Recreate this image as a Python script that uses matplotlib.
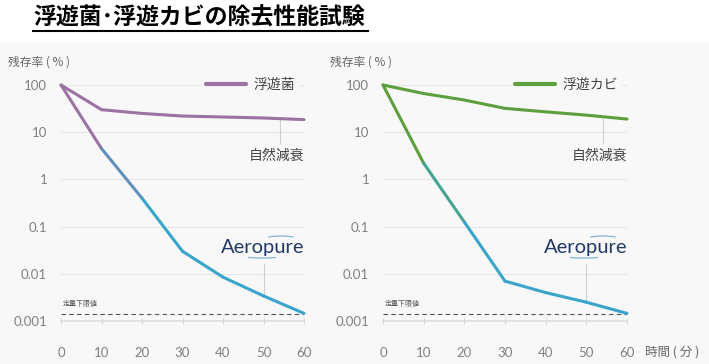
import matplotlib.pyplot as plt
import numpy as np
from matplotlib.collections import LineCollection
from matplotlib.patches import Arc, Rectangle
from matplotlib.lines import Line2D
from matplotlib.colors import to_rgb

plt.rcParams['font.family'] = ['Noto Sans CJK JP', 'DejaVu Sans']

TITLE = '浮遊菌･浮遊カビの除去性能試験'
MINUTES = [0, 10, 20, 30, 40, 50, 60]

# 浮遊菌
BAC_NATURAL = [100, 30, 25, 22, 21, 20, 18.5]
BAC_AEROPURE = [100, 4.5, 0.4, 0.03, 0.0085, 0.0034, 0.00145]
# 浮遊カビ
MOLD_NATURAL = [100, 66, 48, 32, 27, 23, 19]
MOLD_AEROPURE = [100, 2.2, 0.125, 0.007, 0.004, 0.0025, 0.00145]

LIMIT = 0.00142
YTICKS = [0.001, 0.01, 0.1, 1, 10, 100]
YTICKLABELS = ['0.001', '0.01', '0.1', '1', '10', '100']

PURPLE = '#9b72a3'
GREEN = '#5c9f3c'
CYAN = '#3ba4cb'
NAVY = '#22396a'
BG = '#f8f8f8'

W, H = 709, 364


def mix(c1, c2, t):
    a, b = np.array(to_rgb(c1)), np.array(to_rgb(c2))
    return tuple(a * (1 - t) + b * t)


def panel(ax, natural, aero, color, legend_label):
    ax.set_facecolor(BG)
    ax.set_yscale('log')
    ax.set_ylim(0.001, 100)
    ax.set_xlim(0, 60)
    ax.yaxis.set_minor_locator(plt.NullLocator())
    ax.set_yticks(YTICKS)
    ax.set_yticklabels(YTICKLABELS)
    ax.set_xticks(MINUTES)
    for s in ['top', 'right', 'left']:
        ax.spines[s].set_visible(False)
    ax.spines['bottom'].set_color('#dddddd')
    ax.spines['bottom'].set_linewidth(1.2)
    ax.tick_params(axis='y', length=0, pad=10, labelsize=9.5, labelcolor='#808080')
    ax.tick_params(axis='x', length=5, direction='inout', color='#d6d6d6',
                   pad=16, labelsize=9.5, labelcolor='#808080')
    for lab in ax.get_xticklabels() + ax.get_yticklabels():
        lab.set_family(['Lato', 'DejaVu Sans'])
    ax.grid(axis='y', color='#e6e6e6', linewidth=0.8)
    ax.set_axisbelow(True)

    # 定量下限値
    ax.axhline(LIMIT, color='#555555', linewidth=0.8, dashes=(4, 3))
    ax.text(0.5, 0.0019, '定量下限値', fontsize=5, color='#555555', va='bottom')

    # natural decay line
    ax.plot(MINUTES, natural, color=color, linewidth=2.2, label=legend_label,
            solid_capstyle='round', clip_on=False, zorder=4)

    # aeropure line with colour gradient from series colour to cyan
    pts = np.column_stack([MINUTES, aero])
    segs = [pts[i:i + 2] for i in range(len(pts) - 1)]
    cols = [color, mix(color, CYAN, 0.6), CYAN, CYAN, CYAN, CYAN]
    lc = LineCollection(segs, colors=cols, linewidths=2.2, capstyle='round',
                        clip_on=False, zorder=4)
    ax.add_collection(lc)

    # leader lines
    ax.vlines(54, 5.5, natural[5] * 0.97, color='#d0d0d0', linewidth=0.8, zorder=2)
    ax.text(60, 3.2, '自然減衰', fontsize=10, color='#444444', ha='right', va='center')
    ax.vlines(50, aero[5], 0.017, color='#d0d0d0', linewidth=0.8, zorder=2)
    ax.text(60, 0.036, 'Aeropure', fontsize=14.5, color=NAVY, ha='right', va='center',
            family=['Lato', 'DejaVu Sans'])

    leg = ax.legend(loc='center right', bbox_to_anchor=(1.01, 1.0), fontsize=10,
                    handlelength=2.9, handletextpad=0.55, borderpad=0.3,
                    frameon=True, facecolor=BG, edgecolor='none', framealpha=1)
    for t in leg.get_texts():
        t.set_color('#444444')
    leg.get_lines()[0].set_linewidth(3)


fig = plt.figure(figsize=(W / 100, H / 100), dpi=100)
fig.patch.set_facecolor('white')
fig.patches.append(Rectangle((0, 0), 1, (H - 42) / H, transform=fig.transFigure,
                             facecolor=BG, edgecolor='none', zorder=-10))

ax1 = fig.add_axes([61 / W, (H - 321) / H, 243 / W, 236 / H])
ax2 = fig.add_axes([383 / W, (H - 321) / H, 244 / W, 236 / H])
panel(ax1, BAC_NATURAL, BAC_AEROPURE, PURPLE, '浮遊菌')
panel(ax2, MOLD_NATURAL, MOLD_AEROPURE, GREEN, '浮遊カビ')

# logo swooshes
for x0 in (0, 322):
    fig.patches.append(Arc(((x0 + 281) / 100, (H - 243) / 100), 0.48, 0.14,
                           theta1=25, theta2=155, transform=fig.dpi_scale_trans,
                           color='#7fb6dc', linewidth=0.9))
    fig.patches.append(Arc(((x0 + 262) / 100, (H - 251) / 100), 0.72, 0.14,
                           theta1=205, theta2=335, transform=fig.dpi_scale_trans,
                           color='#7fb6dc', linewidth=0.9))

fig.text(8 / W, (H - 62) / H, '残存率 ( % )', fontsize=8.5, color='#666666', va='center')
fig.text(330 / W, (H - 62) / H, '残存率 ( % )', fontsize=8.5, color='#666666', va='center')
fig.text(645 / W, (H - 352) / H, '時間 ( 分 )', fontsize=9, color='#666666', va='center')

fig.text(33 / W, (H - 18) / H, TITLE, fontsize=16.5, fontweight='bold', color='black',
         va='center')
fig.add_artist(Line2D([33 / W, 368 / W], [(H - 31) / H] * 2, color='black', linewidth=1.5))

fig.savefig('out.png', dpi=100)
